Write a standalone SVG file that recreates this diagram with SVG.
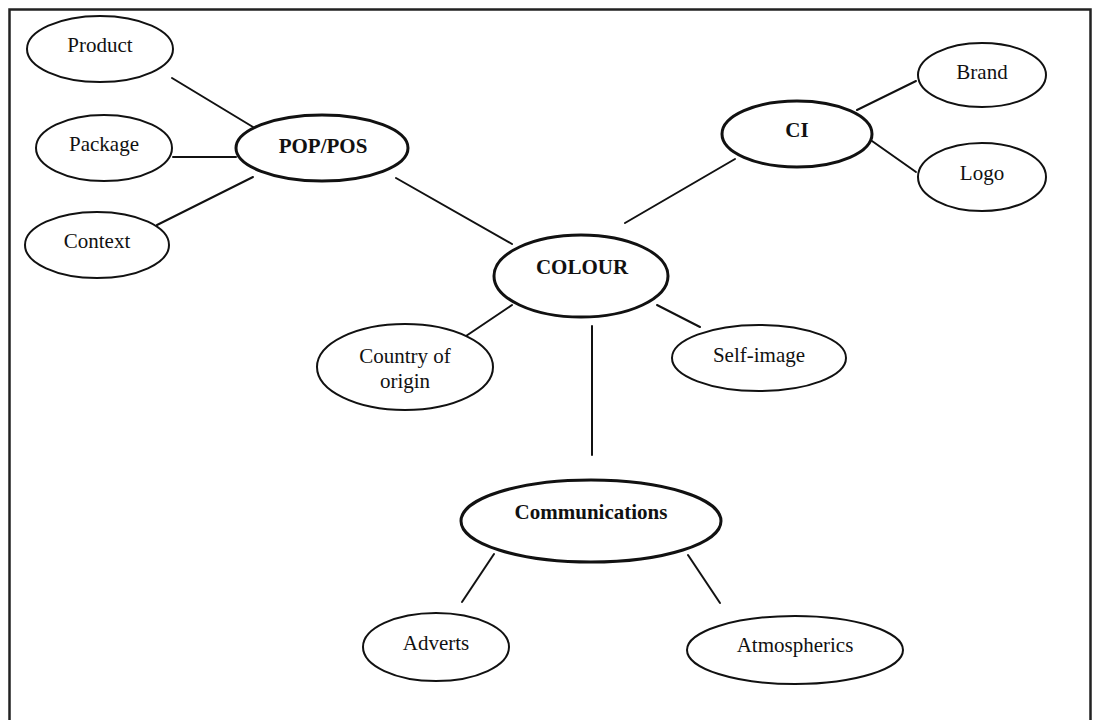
<svg xmlns="http://www.w3.org/2000/svg" width="1095" height="720" viewBox="0 0 1095 720">
<style>
  .n { fill: #fff; stroke: #111; stroke-width: 2; }
  .m { fill: #fff; stroke: #111; stroke-width: 3; }
  .t { font-family: "Liberation Serif", "Times New Roman", serif; font-size: 21px; fill: #111; text-anchor: middle; }
  .b { font-weight: bold; }
  .c line { stroke: #111; stroke-width: 2; stroke-linecap: round; }
</style>
<rect width="1095" height="720" fill="#fff"/>
<path d="M9.5 722 V9.5 H1090.5 V722" fill="none" stroke="#222" stroke-width="2.5"/>
<g id="connectors" class="c">
  <line x1="172" y1="78" x2="253" y2="127"/>
  <line x1="173" y1="157" x2="236" y2="157"/>
  <line x1="157" y1="225" x2="253" y2="177"/>
  <line x1="396" y1="178" x2="512" y2="244"/>
  <line x1="735" y1="159" x2="625" y2="223"/>
  <line x1="857" y1="110" x2="916" y2="81"/>
  <line x1="872" y1="141" x2="916" y2="172"/>
  <line x1="512" y1="305" x2="466" y2="336"/>
  <line x1="657" y1="305" x2="700" y2="327"/>
  <line x1="592" y1="326" x2="592" y2="455"/>
  <line x1="494" y1="554" x2="462" y2="602"/>
  <line x1="688" y1="555" x2="720" y2="603"/>
</g>
<g id="product"><ellipse class="n" cx="100" cy="49" rx="73" ry="33"/><text class="t" x="100" y="52">Product</text></g>
<g id="package"><ellipse class="n" cx="104" cy="148" rx="68" ry="33"/><text class="t" x="104" y="151">Package</text></g>
<g id="context"><ellipse class="n" cx="97" cy="245" rx="72" ry="33"/><text class="t" x="97" y="248">Context</text></g>
<g id="poppos"><ellipse class="m" cx="322" cy="148" rx="86" ry="33"/><text class="t b" x="323" y="153">POP/POS</text></g>
<g id="ci"><ellipse class="m" cx="797" cy="134" rx="75" ry="33"/><text class="t b" x="797" y="137">CI</text></g>
<g id="brand"><ellipse class="n" cx="982" cy="75" rx="64" ry="32"/><text class="t" x="982" y="79">Brand</text></g>
<g id="logo"><ellipse class="n" cx="982" cy="177" rx="64" ry="34"/><text class="t" x="982" y="180">Logo</text></g>
<g id="colour"><ellipse class="m" cx="581" cy="276" rx="87" ry="41"/><text class="t b" x="582" y="274">COLOUR</text></g>
<g id="country"><ellipse class="n" cx="405" cy="367" rx="88" ry="43"/><text class="t" x="405" y="363">Country of</text><text class="t" x="405" y="388">origin</text></g>
<g id="selfimage"><ellipse class="n" cx="759" cy="358" rx="87" ry="33"/><text class="t" x="759" y="362">Self-image</text></g>
<g id="communications"><ellipse class="m" cx="591" cy="521" rx="130" ry="41"/><text class="t b" x="591" y="519">Communications</text></g>
<g id="adverts"><ellipse class="n" cx="436" cy="647" rx="73" ry="34"/><text class="t" x="436" y="650">Adverts</text></g>
<g id="atmospherics"><ellipse class="n" cx="795" cy="650" rx="108" ry="34"/><text class="t" x="795" y="652">Atmospherics</text></g>
</svg>
